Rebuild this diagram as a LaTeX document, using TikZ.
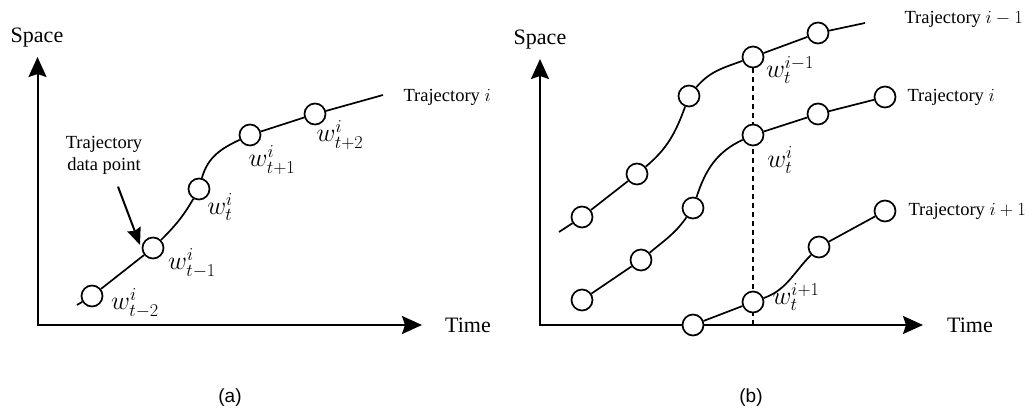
\RequirePackage{fix-cm}
\documentclass[tikz,border=0pt]{standalone}
\usepackage[no-math]{fontspec}
\setmainfont{Liberation Serif}
\setsansfont{Liberation Sans}
\usetikzlibrary{arrows.meta, positioning, calc, backgrounds}
\tikzset{
  >={Stealth[length=20pt, width=18pt, inset=3pt]},
  axis/.style={<->, line width=2pt},
  traj/.style={line width=1.7pt},
  dpoint/.style={circle, draw, fill=white, line width=1.7pt,
    minimum size=21pt, inner sep=0pt},
  axlabel/.style={font=\fontsize{22}{26}\selectfont},
  trajlabel/.style={anchor=west, font=\fontsize{18.5}{22}\selectfont},
  wlabel/.style={inner sep=0pt, font=\fontsize{26}{30}\selectfont},
  caption/.style={font=\sffamily\fontsize{19}{22}\selectfont},
  ptr/.style={-{Stealth[length=17pt, width=14pt, inset=2pt]}, line width=2pt},
}
\begin{document}
\begin{tikzpicture}[x=1pt, y=1pt]
  \useasboundingbox (0,0) rectangle (1033,412);

  % ---- (a): one trajectory ---------------------------------------------------
  \coordinate (ao) at (37.5,87);
  \coordinate (ay) at (37.5,355);
  \coordinate (ax) at (422,87);
  \draw[axis] (ay) -- (ao) -- (ax);
  \node[axlabel] (aspace) at (37,374) {Space};
  \node[axlabel] (atime)  at (468,87) {Time};

  \coordinate (a0) at (77,107);
  \node[dpoint] (a1) at (92,116)  {};
  \node[dpoint] (a2) at (153,164) {};
  \node[dpoint] (a3) at (199,223) {};
  \node[dpoint] (a4) at (250,277) {};
  \node[dpoint] (a5) at (315,298) {};
  \coordinate (aend) at (383,317);
  \draw[traj] (a0) -- (a1) -- (a2) to[out=45,in=240] (a3)
    to[out=75,in=205] (a4) -- (a5) -- (aend);

  \node[wlabel] (la1) at (135,109) {$w^i_{t-2}$};
  \node[wlabel] (la2) at (192,149) {$w^i_{t-1}$};
  \node[wlabel] (la3) at (220,205) {$w^i_{t}$};
  \node[wlabel] (la4) at (272,252) {$w^i_{t+1}$};
  \node[wlabel] (la5) at (340,277) {$w^i_{t+2}$};
  \node[trajlabel] (ta) at (400,315) {Trajectory $i$};

  \node[trajlabel, anchor=center, align=center] (dptext) at (104,257)
    {Trajectory\\data point};
  \draw[ptr] ($(dptext.south)+(14,-9)$) -- ($(a2)+(-13,3)$);

  \node[caption] (capa) at (230,14) {(a)};

  % ---- (b): three trajectories -----------------------------------------------
  \coordinate (bo) at (540,87);
  \coordinate (by) at (540,353);
  \coordinate (bx) at (923,87);
  \draw[axis] (by) -- (bo) -- (bx);
  \node[axlabel] (bspace) at (540,372) {Space};
  \node[axlabel] (btime)  at (970,87)  {Time};

  % trajectory i-1
  \coordinate (u0) at (559,180);
  \node[dpoint] (u1) at (582,195) {};
  \node[dpoint] (u2) at (637,238) {};
  \node[dpoint] (u3) at (689,316) {};
  \node[dpoint] (u4) at (753,355) {};
  \node[dpoint] (u5) at (818,379) {};
  \coordinate (uend) at (865,389);
  \draw[traj] (u0) -- (u1) -- (u2) to[out=40,in=250] (u3)
    to[out=50,in=200] (u4) -- (u5) -- (uend);

  % trajectory i
  \node[dpoint] (m1) at (582,112) {};
  \node[dpoint] (m2) at (641,152) {};
  \node[dpoint] (m3) at (693,204) {};
  \node[dpoint] (m4) at (753,277) {};
  \node[dpoint] (m5) at (818,298) {};
  \node[dpoint] (m6) at (885,315) {};
  \draw[traj] (m1) -- (m2) to[out=40,in=235] (m3)
    to[out=72,in=205] (m4) -- (m5) -- (m6);

  % trajectory i+1
  \node[dpoint] (l1) at (693,87)  {};
  \node[dpoint] (l2) at (753,110) {};
  \node[dpoint] (l3) at (819,165) {};
  \node[dpoint] (l4) at (885,201) {};
  \draw[traj] (l1) -- (l2) to[out=20,in=225] (l3) -- (l4);

  % same time step t, behind the circles
  \coordinate (tstep) at (753,87);
  \begin{scope}[on background layer]
    \draw[traj, dashed, dash pattern=on 5pt off 4pt] (u4) -- (tstep);
  \end{scope}

  \node[wlabel] (lu) at (790,342) {$w^{i-1}_t$};
  \node[wlabel] (lm) at (780,252) {$w^{i}_t$};
  \node[wlabel] (ll) at (796,115) {$w^{i+1}_t$};
  \node[trajlabel] (tu) at (901,393) {Trajectory $i-1$};
  \node[trajlabel] (tm) at (904,315) {Trajectory $i$};
  \node[trajlabel] (tl) at (905,201) {Trajectory $i+1$};

  \node[caption] (capb) at (751,14) {(b)};

\end{tikzpicture}
\end{document}
